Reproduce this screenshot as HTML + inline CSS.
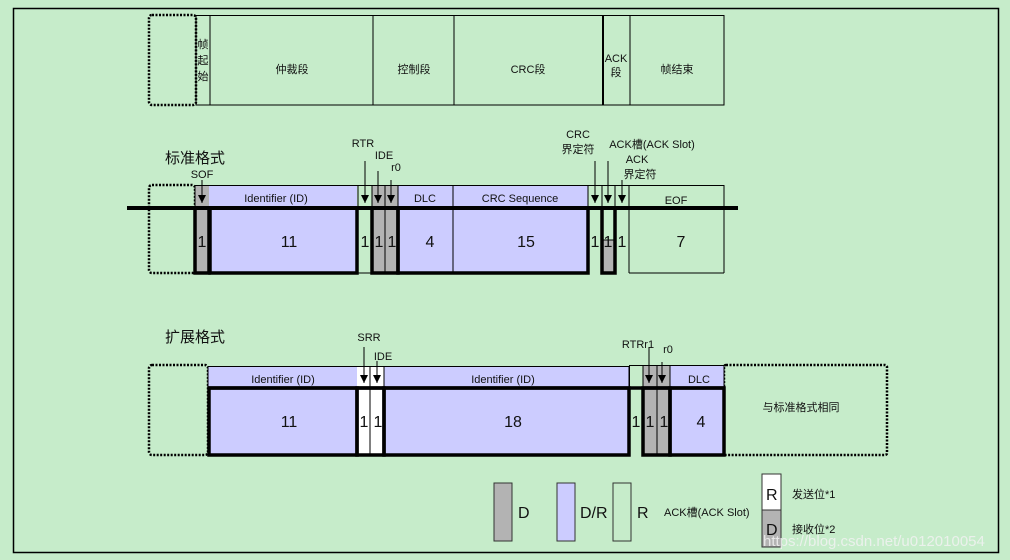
<!DOCTYPE html>
<html><head><meta charset="utf-8"><style>
html,body{margin:0;padding:0;background:#c6ecca;}
svg{display:block;}
text{font-family:"Liberation Sans","Noto Sans CJK SC",sans-serif;fill:#111;}
</style></head><body>
<svg width="1010" height="560" viewBox="0 0 1010 560" xmlns="http://www.w3.org/2000/svg">
<defs>
<marker id="ah" markerWidth="9" markerHeight="9" refX="8" refY="4" orient="auto" markerUnits="userSpaceOnUse">
<path d="M0,0 L8,4 L0,8 z" fill="#000"/>
</marker>
</defs>
<rect width="1010" height="560" fill="#c6ecca"/>
<rect x="13.5" y="8.5" width="985" height="544" fill="none" stroke="#000" stroke-width="1.5"/>

<!-- Top row -->
<rect x="149" y="15" width="47" height="90" rx="3" fill="none" stroke="#000" stroke-width="2.5" stroke-dasharray="2,1.5"/>
<rect x="196" y="15.5" width="528" height="89.5" fill="none" stroke="#000" stroke-width="1"/>
<g stroke="#000">
<line x1="210" y1="15" x2="210" y2="105" stroke-width="1"/>
<line x1="373" y1="15" x2="373" y2="105" stroke-width="1"/>
<line x1="454" y1="15" x2="454" y2="105" stroke-width="1"/>
<line x1="603" y1="15" x2="603" y2="105" stroke-width="2"/>
<line x1="630" y1="15" x2="630" y2="105" stroke-width="1"/>
</g>
<g font-size="11" text-anchor="middle">
<text x="203" y="48">帧</text><text x="203" y="64">起</text><text x="203" y="80">始</text>
<text x="292" y="73">仲裁段</text>
<text x="414" y="73">控制段</text>
<text x="528" y="73">CRC段</text>
<text x="616" y="62">ACK</text><text x="616" y="76">段</text>
<text x="677" y="73">帧结束</text>
</g>

<!-- Standard format -->
<text x="165" y="163" font-size="15">标准格式</text>
<rect x="149" y="185" width="46" height="88" rx="3" fill="none" stroke="#000" stroke-width="2.5" stroke-dasharray="2,1.5"/>
<rect x="195" y="185" width="14" height="88" fill="#b3b3b3"/>
<rect x="209" y="185" width="148" height="88" fill="#ccccff"/>
<rect x="372" y="185" width="26" height="88" fill="#b3b3b3"/>
<rect x="398" y="185" width="190" height="88" fill="#ccccff"/>
<rect x="602" y="240" width="13" height="33" fill="#b3b3b3"/>
<rect x="195" y="185.5" width="529" height="23" fill="none" stroke="#000" stroke-width="1"/>
<g stroke="#000" stroke-width="1">
<line x1="358" y1="185" x2="358" y2="208"/><line x1="372" y1="185" x2="372" y2="208"/>
<line x1="385" y1="185" x2="385" y2="273"/><line x1="398" y1="185" x2="398" y2="208"/>
<line x1="453" y1="185" x2="453" y2="273"/><line x1="588" y1="185" x2="588" y2="208"/>
<line x1="602" y1="185" x2="602" y2="208"/><line x1="615" y1="185" x2="615" y2="208"/>
<line x1="629" y1="185" x2="629" y2="273"/><line x1="724" y1="185" x2="724" y2="273"/>
<line x1="629" y1="273" x2="724" y2="273"/>
<line x1="602" y1="240" x2="615" y2="240"/>
<line x1="358" y1="273" x2="372" y2="273"/>
</g>
<line x1="127" y1="208" x2="738" y2="208" stroke="#000" stroke-width="4"/>
<g stroke="#000" stroke-width="3.5" fill="none">
<rect x="195" y="208" width="14" height="65"/>
<rect x="210" y="208" width="147" height="65"/>
<rect x="372" y="208" width="26" height="65"/>
<rect x="398" y="208" width="190" height="65"/>
<rect x="602" y="208" width="13" height="65"/>
</g>
<g font-size="16" text-anchor="middle">
<text x="202" y="247">1</text><text x="289" y="247">11</text><text x="365" y="247">1</text>
<text x="379" y="247">1</text><text x="392" y="247">1</text><text x="430" y="247">4</text>
<text x="526" y="247">15</text><text x="595" y="247">1</text><text x="608" y="247">1</text>
<text x="622" y="247">1</text><text x="681" y="247">7</text>
</g>
<g font-size="11" text-anchor="middle">
<text x="276" y="202">Identifier (ID)</text>
<text x="425" y="202">DLC</text>
<text x="520" y="202">CRC Sequence</text>
<text x="676" y="204">EOF</text>
<text x="202" y="178">SOF</text>
<text x="363" y="147">RTR</text>
<text x="384" y="159">IDE</text>
<text x="396" y="171">r0</text>
<text x="578" y="138">CRC</text>
<text x="578" y="153">界定符</text>
<text x="652" y="148">ACK槽(ACK Slot)</text>
<text x="637" y="163">ACK</text>
<text x="640" y="178">界定符</text>
</g>
<g stroke="#000" stroke-width="1" marker-end="url(#ah)">
<line x1="202" y1="180" x2="202" y2="203"/>
<line x1="365" y1="161" x2="365" y2="203"/>
<line x1="378" y1="171" x2="378" y2="203"/>
<line x1="391" y1="180" x2="391" y2="203"/>
<line x1="595" y1="161" x2="595" y2="203"/>
<line x1="608" y1="161" x2="608" y2="203"/>
<line x1="622" y1="180" x2="622" y2="203"/>
</g>

<!-- Extended format -->
<text x="165" y="342" font-size="15">扩展格式</text>
<rect x="149" y="365" width="59" height="90" rx="3" fill="none" stroke="#000" stroke-width="2.5" stroke-dasharray="2,1.5"/>
<rect x="724" y="365" width="163" height="90" rx="2" fill="none" stroke="#000" stroke-width="2.5" stroke-dasharray="2,1.5"/>
<rect x="208" y="366" width="149" height="89" fill="#ccccff"/>
<rect x="357" y="366" width="27" height="89" fill="#fff"/>
<rect x="384" y="366" width="245" height="89" fill="#ccccff"/>
<rect x="643" y="365" width="27" height="90" fill="#b3b3b3"/>
<rect x="670" y="366" width="54" height="89" fill="#ccccff"/>
<rect x="208" y="366.5" width="421" height="22" fill="none" stroke="#000" stroke-width="1"/>
<rect x="629.5" y="365.5" width="13.5" height="23" fill="none" stroke="#000" stroke-width="1"/>
<rect x="643" y="365.5" width="81" height="23" fill="none" stroke="#000" stroke-width="1"/>
<g stroke="#000" stroke-width="1">
<line x1="370" y1="366" x2="370" y2="455"/><line x1="384" y1="366" x2="384" y2="388"/>
<line x1="657" y1="365" x2="657" y2="455"/><line x1="670" y1="365" x2="670" y2="388"/>
</g>
<line x1="208" y1="388" x2="724" y2="388" stroke="#000" stroke-width="3.5"/>
<g stroke="#000" stroke-width="3.5" fill="none">
<rect x="209" y="388" width="148" height="67"/>
<rect x="357" y="388" width="27" height="67"/>
<rect x="384" y="388" width="245" height="67"/>
<rect x="643" y="388" width="27" height="67"/>
<rect x="670" y="388" width="54" height="67"/>
</g>
<g font-size="16" text-anchor="middle">
<text x="289" y="427">11</text><text x="364" y="427">1</text><text x="378" y="427">1</text>
<text x="513" y="427">18</text><text x="636" y="427">1</text><text x="650" y="427">1</text>
<text x="664" y="427">1</text><text x="701" y="427">4</text>
</g>
<g font-size="11" text-anchor="middle">
<text x="283" y="383">Identifier (ID)</text>
<text x="503" y="383">Identifier (ID)</text>
<text x="699" y="383">DLC</text>
<text x="369" y="341">SRR</text>
<text x="383" y="360">IDE</text>
<text x="638" y="348">RTRr1</text>
<text x="668" y="353">r0</text>
<text x="801" y="411">与标准格式相同</text>
</g>
<g stroke="#000" stroke-width="1" marker-end="url(#ah)">
<line x1="364" y1="347" x2="364" y2="383"/>
<line x1="377" y1="361" x2="377" y2="383"/>
<line x1="649" y1="347" x2="649" y2="383"/>
<line x1="662" y1="362" x2="662" y2="383"/>
</g>

<!-- Legend -->
<rect x="494" y="483" width="18" height="58" fill="#b3b3b3" stroke="#333" stroke-width="1"/>
<text x="518" y="518" font-size="16">D</text>
<rect x="557" y="483" width="18" height="58" fill="#ccccff" stroke="#333" stroke-width="1"/>
<text x="580" y="518" font-size="16">D/R</text>
<rect x="613" y="483" width="18" height="58" fill="#c6ecca" stroke="#333" stroke-width="1"/>
<text x="637" y="518" font-size="16">R</text>
<text x="664" y="516" font-size="11">ACK槽(ACK Slot)</text>
<rect x="762" y="474" width="19" height="36" fill="#fff" stroke="#333" stroke-width="1"/>
<rect x="762" y="510" width="19" height="37" fill="#b3b3b3" stroke="#333" stroke-width="1"/>
<text x="766" y="500" font-size="16">R</text>
<text x="766" y="535" font-size="16">D</text>
<text x="792" y="498" font-size="11">发送位*1</text>
<text x="792" y="533" font-size="11">接收位*2</text>
<text x="763" y="546" font-size="15" style="fill:#f2f2f2;opacity:0.85">https://blog.csdn.net/u012010054</text>
</svg>
</body></html>
